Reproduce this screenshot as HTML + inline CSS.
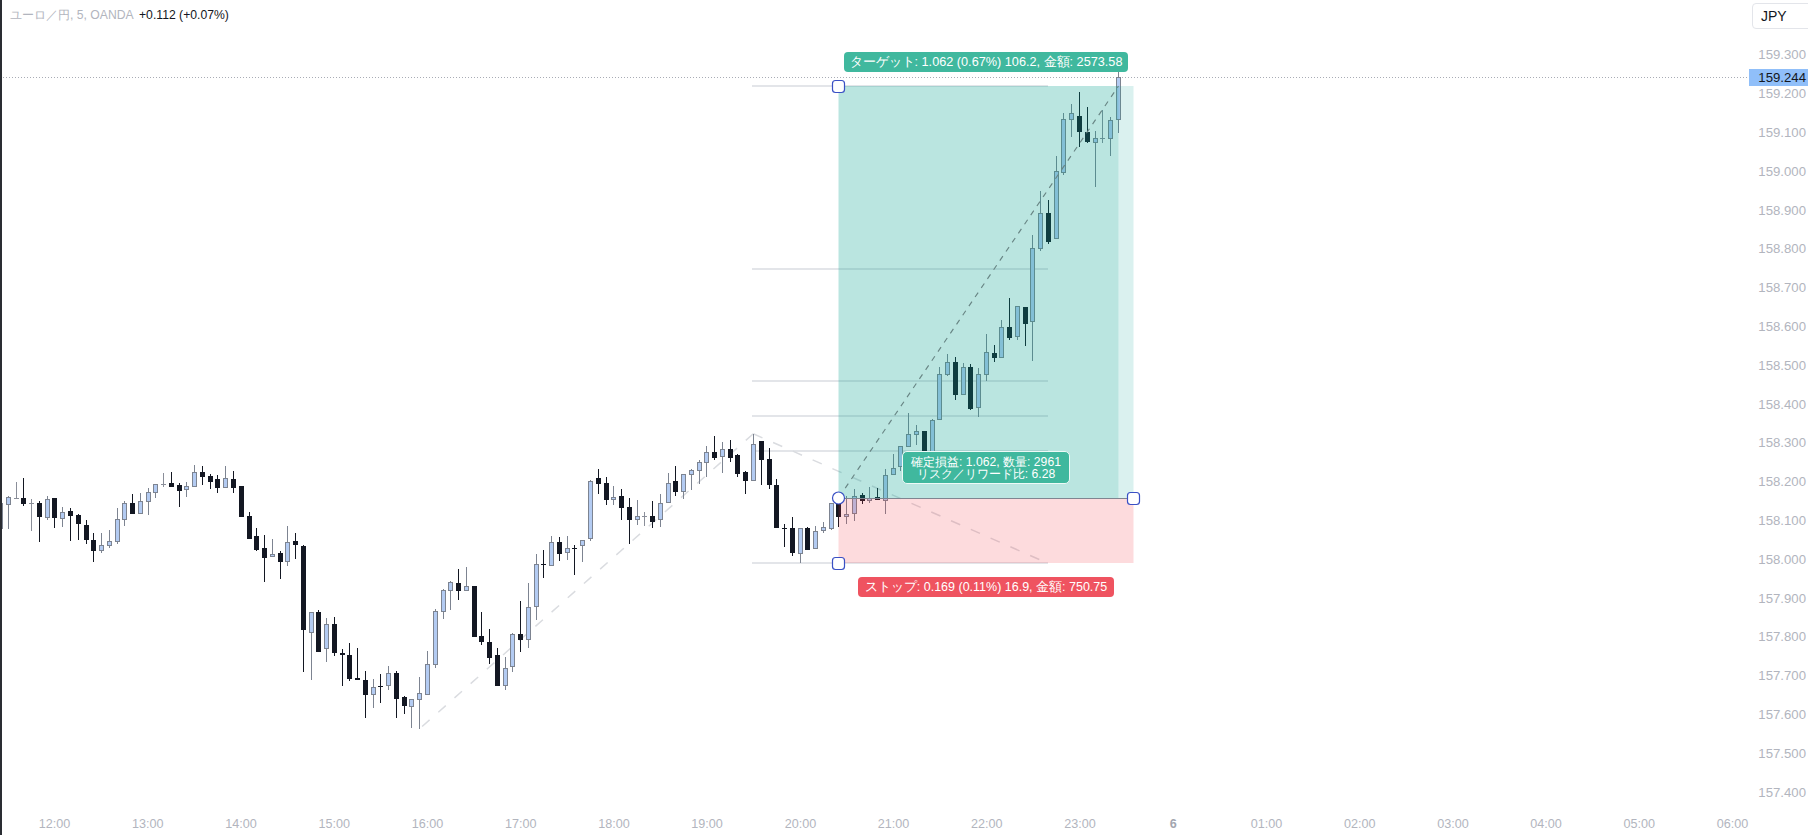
<!DOCTYPE html>
<html><head><meta charset="utf-8">
<style>
html,body{margin:0;padding:0;background:#fff;}
body{width:1808px;height:835px;position:relative;overflow:hidden;font-family:"Liberation Sans",sans-serif;}
.abs{position:absolute;white-space:nowrap;}
.pl{position:absolute;right:2px;font-size:13.2px;color:#b2b5be;line-height:14px;text-align:right;}
.tl{position:absolute;top:817px;font-size:12.6px;color:#b2b5be;line-height:14px;width:60px;text-align:center;}
svg{position:absolute;left:0;top:0;}
</style></head><body>
<svg width="1808" height="835" viewBox="0 0 1808 835">
<!-- current price dotted line -->
<line x1="0" y1="77.5" x2="1749" y2="77.5" stroke="#a9acb5" stroke-width="1" stroke-dasharray="1 2"/>
<!-- gray drawing lines -->
<g stroke="#e3e5e9" stroke-width="2">
<line x1="752" y1="86" x2="1048" y2="86"/>
<line x1="752" y1="269" x2="1048" y2="269"/>
<line x1="752" y1="381" x2="1048" y2="381"/>
<line x1="752" y1="416" x2="1048" y2="416"/>
<line x1="752" y1="451" x2="1048" y2="451"/>
<line x1="752" y1="563" x2="1048" y2="563"/>
</g>
<g stroke="#dadce0" stroke-width="1.5" stroke-dasharray="10 11.6">
<line x1="753.3" y1="433.8" x2="419.4" y2="728.9"/>
<line x1="753.3" y1="433.8" x2="1047.7" y2="563.2"/>
</g>
<rect x="0" y="500" width="1" height="31" fill="#7d8491"/>
<rect x="-2" y="503" width="5" height="26" fill="#7d8491"/>
<rect x="-1" y="504" width="3" height="24" fill="#b3cbf2"/>
<rect x="8" y="496" width="1" height="33" fill="#7d8491"/>
<rect x="6" y="497" width="5" height="8" fill="#7d8491"/>
<rect x="7" y="498" width="3" height="6" fill="#b3cbf2"/>
<rect x="16" y="482" width="1" height="17" fill="#8a8e99"/>
<rect x="14" y="498" width="5" height="1" fill="#8a8e99"/>
<rect x="23" y="478" width="1" height="28" fill="#131722"/>
<rect x="21" y="498" width="5" height="6" fill="#131722"/>
<rect x="31" y="499" width="1" height="32" fill="#8a8e99"/>
<rect x="29" y="503" width="5" height="1" fill="#8a8e99"/>
<rect x="39" y="501" width="1" height="41" fill="#131722"/>
<rect x="37" y="503" width="5" height="14" fill="#131722"/>
<rect x="47" y="496" width="1" height="24" fill="#7d8491"/>
<rect x="45" y="499" width="5" height="19" fill="#7d8491"/>
<rect x="46" y="500" width="3" height="17" fill="#b3cbf2"/>
<rect x="54" y="498" width="1" height="30" fill="#131722"/>
<rect x="52" y="498" width="5" height="20" fill="#131722"/>
<rect x="62" y="507" width="1" height="20" fill="#7d8491"/>
<rect x="60" y="512" width="5" height="7" fill="#7d8491"/>
<rect x="61" y="513" width="3" height="5" fill="#b3cbf2"/>
<rect x="70" y="508" width="1" height="33" fill="#131722"/>
<rect x="68" y="511" width="5" height="5" fill="#131722"/>
<rect x="78" y="514" width="1" height="26" fill="#131722"/>
<rect x="76" y="515" width="5" height="9" fill="#131722"/>
<rect x="86" y="520" width="1" height="24" fill="#131722"/>
<rect x="84" y="525" width="5" height="15" fill="#131722"/>
<rect x="93" y="533" width="1" height="29" fill="#131722"/>
<rect x="91" y="540" width="5" height="11" fill="#131722"/>
<rect x="101" y="533" width="1" height="20" fill="#7d8491"/>
<rect x="99" y="545" width="5" height="6" fill="#7d8491"/>
<rect x="100" y="546" width="3" height="4" fill="#b3cbf2"/>
<rect x="109" y="530" width="1" height="18" fill="#7d8491"/>
<rect x="107" y="541" width="5" height="5" fill="#7d8491"/>
<rect x="108" y="542" width="3" height="3" fill="#b3cbf2"/>
<rect x="117" y="508" width="1" height="36" fill="#7d8491"/>
<rect x="115" y="519" width="5" height="23" fill="#7d8491"/>
<rect x="116" y="520" width="3" height="21" fill="#b3cbf2"/>
<rect x="124" y="501" width="1" height="25" fill="#7d8491"/>
<rect x="122" y="503" width="5" height="17" fill="#7d8491"/>
<rect x="123" y="504" width="3" height="15" fill="#b3cbf2"/>
<rect x="132" y="494" width="1" height="20" fill="#131722"/>
<rect x="130" y="503" width="5" height="11" fill="#131722"/>
<rect x="140" y="493" width="1" height="21" fill="#7d8491"/>
<rect x="138" y="501" width="5" height="13" fill="#7d8491"/>
<rect x="139" y="502" width="3" height="11" fill="#b3cbf2"/>
<rect x="148" y="488" width="1" height="27" fill="#7d8491"/>
<rect x="146" y="492" width="5" height="10" fill="#7d8491"/>
<rect x="147" y="493" width="3" height="8" fill="#b3cbf2"/>
<rect x="155" y="484" width="1" height="14" fill="#7d8491"/>
<rect x="153" y="484" width="5" height="9" fill="#7d8491"/>
<rect x="154" y="485" width="3" height="7" fill="#b3cbf2"/>
<rect x="163" y="473" width="1" height="14" fill="#8a8e99"/>
<rect x="161" y="484" width="5" height="1" fill="#8a8e99"/>
<rect x="171" y="472" width="1" height="15" fill="#131722"/>
<rect x="169" y="483" width="5" height="4" fill="#131722"/>
<rect x="179" y="483" width="1" height="24" fill="#131722"/>
<rect x="177" y="485" width="5" height="6" fill="#131722"/>
<rect x="186" y="482" width="1" height="15" fill="#7d8491"/>
<rect x="184" y="486" width="5" height="4" fill="#7d8491"/>
<rect x="185" y="487" width="3" height="2" fill="#b3cbf2"/>
<rect x="194" y="465" width="1" height="22" fill="#7d8491"/>
<rect x="192" y="472" width="5" height="15" fill="#7d8491"/>
<rect x="193" y="473" width="3" height="13" fill="#b3cbf2"/>
<rect x="202" y="466" width="1" height="19" fill="#131722"/>
<rect x="200" y="472" width="5" height="5" fill="#131722"/>
<rect x="210" y="474" width="1" height="15" fill="#131722"/>
<rect x="208" y="476" width="5" height="6" fill="#131722"/>
<rect x="217" y="475" width="1" height="18" fill="#131722"/>
<rect x="215" y="479" width="5" height="9" fill="#131722"/>
<rect x="225" y="466" width="1" height="22" fill="#7d8491"/>
<rect x="223" y="478" width="5" height="10" fill="#7d8491"/>
<rect x="224" y="479" width="3" height="8" fill="#b3cbf2"/>
<rect x="233" y="471" width="1" height="22" fill="#131722"/>
<rect x="231" y="479" width="5" height="9" fill="#131722"/>
<rect x="241" y="486" width="1" height="31" fill="#131722"/>
<rect x="239" y="486" width="5" height="31" fill="#131722"/>
<rect x="249" y="512" width="1" height="27" fill="#131722"/>
<rect x="247" y="516" width="5" height="23" fill="#131722"/>
<rect x="256" y="528" width="1" height="23" fill="#131722"/>
<rect x="254" y="536" width="5" height="14" fill="#131722"/>
<rect x="264" y="535" width="1" height="47" fill="#131722"/>
<rect x="262" y="548" width="5" height="10" fill="#131722"/>
<rect x="272" y="539" width="1" height="18" fill="#7d8491"/>
<rect x="270" y="554" width="5" height="3" fill="#7d8491"/>
<rect x="271" y="555" width="3" height="1" fill="#b3cbf2"/>
<rect x="280" y="551" width="1" height="28" fill="#131722"/>
<rect x="278" y="553" width="5" height="9" fill="#131722"/>
<rect x="287" y="526" width="1" height="40" fill="#7d8491"/>
<rect x="285" y="542" width="5" height="20" fill="#7d8491"/>
<rect x="286" y="543" width="3" height="18" fill="#b3cbf2"/>
<rect x="295" y="533" width="1" height="26" fill="#131722"/>
<rect x="293" y="541" width="5" height="4" fill="#131722"/>
<rect x="303" y="545" width="1" height="127" fill="#131722"/>
<rect x="301" y="546" width="5" height="84" fill="#131722"/>
<rect x="311" y="612" width="1" height="68" fill="#7d8491"/>
<rect x="309" y="612" width="5" height="21" fill="#7d8491"/>
<rect x="310" y="613" width="3" height="19" fill="#b3cbf2"/>
<rect x="318" y="610" width="1" height="42" fill="#131722"/>
<rect x="316" y="612" width="5" height="40" fill="#131722"/>
<rect x="326" y="618" width="1" height="44" fill="#7d8491"/>
<rect x="324" y="624" width="5" height="25" fill="#7d8491"/>
<rect x="325" y="625" width="3" height="23" fill="#b3cbf2"/>
<rect x="334" y="617" width="1" height="39" fill="#131722"/>
<rect x="332" y="624" width="5" height="29" fill="#131722"/>
<rect x="342" y="649" width="1" height="37" fill="#131722"/>
<rect x="340" y="653" width="5" height="2" fill="#131722"/>
<rect x="349" y="643" width="1" height="38" fill="#131722"/>
<rect x="347" y="655" width="5" height="24" fill="#131722"/>
<rect x="357" y="648" width="1" height="32" fill="#131722"/>
<rect x="355" y="678" width="5" height="2" fill="#131722"/>
<rect x="365" y="671" width="1" height="47" fill="#131722"/>
<rect x="363" y="680" width="5" height="15" fill="#131722"/>
<rect x="373" y="679" width="1" height="29" fill="#7d8491"/>
<rect x="371" y="687" width="5" height="8" fill="#7d8491"/>
<rect x="372" y="688" width="3" height="6" fill="#b3cbf2"/>
<rect x="380" y="674" width="1" height="29" fill="#131722"/>
<rect x="378" y="686" width="5" height="1" fill="#131722"/>
<rect x="388" y="666" width="1" height="24" fill="#7d8491"/>
<rect x="386" y="673" width="5" height="13" fill="#7d8491"/>
<rect x="387" y="674" width="3" height="11" fill="#b3cbf2"/>
<rect x="396" y="671" width="1" height="47" fill="#131722"/>
<rect x="394" y="673" width="5" height="26" fill="#131722"/>
<rect x="404" y="696" width="1" height="18" fill="#131722"/>
<rect x="402" y="697" width="5" height="9" fill="#131722"/>
<rect x="411" y="699" width="1" height="29" fill="#7d8491"/>
<rect x="409" y="699" width="5" height="8" fill="#7d8491"/>
<rect x="410" y="700" width="3" height="6" fill="#b3cbf2"/>
<rect x="419" y="677" width="1" height="52" fill="#7d8491"/>
<rect x="417" y="693" width="5" height="7" fill="#7d8491"/>
<rect x="418" y="694" width="3" height="5" fill="#b3cbf2"/>
<rect x="427" y="651" width="1" height="44" fill="#7d8491"/>
<rect x="425" y="664" width="5" height="31" fill="#7d8491"/>
<rect x="426" y="665" width="3" height="29" fill="#b3cbf2"/>
<rect x="435" y="609" width="1" height="59" fill="#7d8491"/>
<rect x="433" y="611" width="5" height="54" fill="#7d8491"/>
<rect x="434" y="612" width="3" height="52" fill="#b3cbf2"/>
<rect x="443" y="589" width="1" height="30" fill="#7d8491"/>
<rect x="441" y="590" width="5" height="22" fill="#7d8491"/>
<rect x="442" y="591" width="3" height="20" fill="#b3cbf2"/>
<rect x="450" y="581" width="1" height="29" fill="#7d8491"/>
<rect x="448" y="582" width="5" height="9" fill="#7d8491"/>
<rect x="449" y="583" width="3" height="7" fill="#b3cbf2"/>
<rect x="458" y="569" width="1" height="31" fill="#131722"/>
<rect x="456" y="583" width="5" height="8" fill="#131722"/>
<rect x="466" y="567" width="1" height="24" fill="#7d8491"/>
<rect x="464" y="586" width="5" height="5" fill="#7d8491"/>
<rect x="465" y="587" width="3" height="3" fill="#b3cbf2"/>
<rect x="474" y="586" width="1" height="51" fill="#131722"/>
<rect x="472" y="586" width="5" height="51" fill="#131722"/>
<rect x="481" y="612" width="1" height="33" fill="#131722"/>
<rect x="479" y="636" width="5" height="6" fill="#131722"/>
<rect x="489" y="629" width="1" height="35" fill="#131722"/>
<rect x="487" y="642" width="5" height="16" fill="#131722"/>
<rect x="497" y="648" width="1" height="38" fill="#131722"/>
<rect x="495" y="655" width="5" height="31" fill="#131722"/>
<rect x="505" y="657" width="1" height="33" fill="#7d8491"/>
<rect x="503" y="668" width="5" height="18" fill="#7d8491"/>
<rect x="504" y="669" width="3" height="16" fill="#b3cbf2"/>
<rect x="512" y="633" width="1" height="39" fill="#7d8491"/>
<rect x="510" y="634" width="5" height="33" fill="#7d8491"/>
<rect x="511" y="635" width="3" height="31" fill="#b3cbf2"/>
<rect x="520" y="601" width="1" height="51" fill="#131722"/>
<rect x="518" y="634" width="5" height="6" fill="#131722"/>
<rect x="528" y="583" width="1" height="65" fill="#7d8491"/>
<rect x="526" y="607" width="5" height="33" fill="#7d8491"/>
<rect x="527" y="608" width="3" height="31" fill="#b3cbf2"/>
<rect x="536" y="554" width="1" height="66" fill="#7d8491"/>
<rect x="534" y="564" width="5" height="43" fill="#7d8491"/>
<rect x="535" y="565" width="3" height="41" fill="#b3cbf2"/>
<rect x="543" y="550" width="1" height="28" fill="#131722"/>
<rect x="541" y="564" width="5" height="1" fill="#131722"/>
<rect x="551" y="536" width="1" height="30" fill="#7d8491"/>
<rect x="549" y="542" width="5" height="24" fill="#7d8491"/>
<rect x="550" y="543" width="3" height="22" fill="#b3cbf2"/>
<rect x="559" y="537" width="1" height="24" fill="#131722"/>
<rect x="557" y="542" width="5" height="12" fill="#131722"/>
<rect x="567" y="536" width="1" height="24" fill="#7d8491"/>
<rect x="565" y="548" width="5" height="5" fill="#7d8491"/>
<rect x="566" y="549" width="3" height="3" fill="#b3cbf2"/>
<rect x="574" y="545" width="1" height="30" fill="#131722"/>
<rect x="572" y="548" width="5" height="1" fill="#131722"/>
<rect x="582" y="540" width="1" height="22" fill="#7d8491"/>
<rect x="580" y="540" width="5" height="6" fill="#7d8491"/>
<rect x="581" y="541" width="3" height="4" fill="#b3cbf2"/>
<rect x="590" y="480" width="1" height="61" fill="#7d8491"/>
<rect x="588" y="481" width="5" height="58" fill="#7d8491"/>
<rect x="589" y="482" width="3" height="56" fill="#b3cbf2"/>
<rect x="598" y="469" width="1" height="25" fill="#131722"/>
<rect x="596" y="478" width="5" height="6" fill="#131722"/>
<rect x="606" y="477" width="1" height="28" fill="#131722"/>
<rect x="604" y="483" width="5" height="17" fill="#131722"/>
<rect x="613" y="486" width="1" height="19" fill="#7d8491"/>
<rect x="611" y="497" width="5" height="3" fill="#7d8491"/>
<rect x="612" y="498" width="3" height="1" fill="#b3cbf2"/>
<rect x="621" y="489" width="1" height="31" fill="#131722"/>
<rect x="619" y="496" width="5" height="12" fill="#131722"/>
<rect x="629" y="498" width="1" height="46" fill="#131722"/>
<rect x="627" y="507" width="5" height="13" fill="#131722"/>
<rect x="637" y="500" width="1" height="25" fill="#7d8491"/>
<rect x="635" y="516" width="5" height="4" fill="#7d8491"/>
<rect x="636" y="517" width="3" height="2" fill="#b3cbf2"/>
<rect x="644" y="512" width="1" height="14" fill="#8a8e99"/>
<rect x="642" y="516" width="5" height="1" fill="#8a8e99"/>
<rect x="652" y="501" width="1" height="27" fill="#131722"/>
<rect x="650" y="516" width="5" height="6" fill="#131722"/>
<rect x="660" y="494" width="1" height="33" fill="#7d8491"/>
<rect x="658" y="503" width="5" height="17" fill="#7d8491"/>
<rect x="659" y="504" width="3" height="15" fill="#b3cbf2"/>
<rect x="668" y="473" width="1" height="30" fill="#7d8491"/>
<rect x="666" y="483" width="5" height="20" fill="#7d8491"/>
<rect x="667" y="484" width="3" height="18" fill="#b3cbf2"/>
<rect x="675" y="466" width="1" height="30" fill="#131722"/>
<rect x="673" y="481" width="5" height="11" fill="#131722"/>
<rect x="683" y="474" width="1" height="25" fill="#7d8491"/>
<rect x="681" y="474" width="5" height="18" fill="#7d8491"/>
<rect x="682" y="475" width="3" height="16" fill="#b3cbf2"/>
<rect x="691" y="469" width="1" height="21" fill="#7d8491"/>
<rect x="689" y="470" width="5" height="5" fill="#7d8491"/>
<rect x="690" y="471" width="3" height="3" fill="#b3cbf2"/>
<rect x="699" y="460" width="1" height="24" fill="#7d8491"/>
<rect x="697" y="462" width="5" height="9" fill="#7d8491"/>
<rect x="698" y="463" width="3" height="7" fill="#b3cbf2"/>
<rect x="706" y="446" width="1" height="31" fill="#7d8491"/>
<rect x="704" y="452" width="5" height="11" fill="#7d8491"/>
<rect x="705" y="453" width="3" height="9" fill="#b3cbf2"/>
<rect x="714" y="436" width="1" height="24" fill="#131722"/>
<rect x="712" y="452" width="5" height="6" fill="#131722"/>
<rect x="722" y="442" width="1" height="31" fill="#7d8491"/>
<rect x="720" y="449" width="5" height="8" fill="#7d8491"/>
<rect x="721" y="450" width="3" height="6" fill="#b3cbf2"/>
<rect x="730" y="440" width="1" height="22" fill="#131722"/>
<rect x="728" y="449" width="5" height="9" fill="#131722"/>
<rect x="737" y="454" width="1" height="23" fill="#131722"/>
<rect x="735" y="455" width="5" height="19" fill="#131722"/>
<rect x="745" y="471" width="1" height="23" fill="#131722"/>
<rect x="743" y="472" width="5" height="9" fill="#131722"/>
<rect x="753" y="434" width="1" height="47" fill="#7d8491"/>
<rect x="751" y="444" width="5" height="37" fill="#7d8491"/>
<rect x="752" y="445" width="3" height="35" fill="#b3cbf2"/>
<rect x="761" y="441" width="1" height="44" fill="#131722"/>
<rect x="759" y="441" width="5" height="19" fill="#131722"/>
<rect x="769" y="448" width="1" height="41" fill="#131722"/>
<rect x="767" y="459" width="5" height="26" fill="#131722"/>
<rect x="776" y="479" width="1" height="49" fill="#131722"/>
<rect x="774" y="485" width="5" height="43" fill="#131722"/>
<rect x="784" y="524" width="1" height="23" fill="#131722"/>
<rect x="782" y="528" width="5" height="1" fill="#131722"/>
<rect x="792" y="517" width="1" height="39" fill="#131722"/>
<rect x="790" y="528" width="5" height="25" fill="#131722"/>
<rect x="800" y="528" width="1" height="35" fill="#7d8491"/>
<rect x="798" y="528" width="5" height="26" fill="#7d8491"/>
<rect x="799" y="529" width="3" height="24" fill="#b3cbf2"/>
<rect x="807" y="527" width="1" height="23" fill="#131722"/>
<rect x="805" y="528" width="5" height="22" fill="#131722"/>
<rect x="815" y="526" width="1" height="23" fill="#7d8491"/>
<rect x="813" y="531" width="5" height="18" fill="#7d8491"/>
<rect x="814" y="532" width="3" height="16" fill="#b3cbf2"/>
<rect x="823" y="522" width="1" height="11" fill="#7d8491"/>
<rect x="821" y="527" width="5" height="4" fill="#7d8491"/>
<rect x="822" y="528" width="3" height="2" fill="#b3cbf2"/>
<rect x="831" y="503" width="1" height="27" fill="#7d8491"/>
<rect x="829" y="503" width="5" height="26" fill="#7d8491"/>
<rect x="830" y="504" width="3" height="24" fill="#b3cbf2"/>
<rect x="838" y="496" width="1" height="31" fill="#131722"/>
<rect x="836" y="504" width="5" height="13" fill="#131722"/>
<rect x="846" y="496" width="1" height="28" fill="#7d8491"/>
<rect x="844" y="514" width="5" height="3" fill="#7d8491"/>
<rect x="845" y="515" width="3" height="1" fill="#b3cbf2"/>
<rect x="854" y="489" width="1" height="32" fill="#7d8491"/>
<rect x="852" y="496" width="5" height="18" fill="#7d8491"/>
<rect x="853" y="497" width="3" height="16" fill="#b3cbf2"/>
<rect x="862" y="493" width="1" height="11" fill="#131722"/>
<rect x="860" y="495" width="5" height="6" fill="#131722"/>
<rect x="869" y="487" width="1" height="16" fill="#7d8491"/>
<rect x="867" y="498" width="5" height="3" fill="#7d8491"/>
<rect x="868" y="499" width="3" height="1" fill="#b3cbf2"/>
<rect x="877" y="488" width="1" height="12" fill="#131722"/>
<rect x="875" y="497" width="5" height="3" fill="#131722"/>
<rect x="885" y="469" width="1" height="45" fill="#7d8491"/>
<rect x="883" y="475" width="5" height="26" fill="#7d8491"/>
<rect x="884" y="476" width="3" height="24" fill="#b3cbf2"/>
<rect x="893" y="454" width="1" height="21" fill="#7d8491"/>
<rect x="891" y="468" width="5" height="7" fill="#7d8491"/>
<rect x="892" y="469" width="3" height="5" fill="#b3cbf2"/>
<rect x="900" y="446" width="1" height="25" fill="#7d8491"/>
<rect x="898" y="446" width="5" height="21" fill="#7d8491"/>
<rect x="899" y="447" width="3" height="19" fill="#b3cbf2"/>
<rect x="908" y="413" width="1" height="34" fill="#7d8491"/>
<rect x="906" y="434" width="5" height="13" fill="#7d8491"/>
<rect x="907" y="435" width="3" height="11" fill="#b3cbf2"/>
<rect x="916" y="425" width="1" height="20" fill="#7d8491"/>
<rect x="914" y="431" width="5" height="4" fill="#7d8491"/>
<rect x="915" y="432" width="3" height="2" fill="#b3cbf2"/>
<rect x="924" y="431" width="1" height="24" fill="#131722"/>
<rect x="922" y="431" width="5" height="21" fill="#131722"/>
<rect x="932" y="419" width="1" height="36" fill="#7d8491"/>
<rect x="930" y="420" width="5" height="32" fill="#7d8491"/>
<rect x="931" y="421" width="3" height="30" fill="#b3cbf2"/>
<rect x="939" y="367" width="1" height="53" fill="#7d8491"/>
<rect x="937" y="374" width="5" height="46" fill="#7d8491"/>
<rect x="938" y="375" width="3" height="44" fill="#b3cbf2"/>
<rect x="947" y="354" width="1" height="22" fill="#7d8491"/>
<rect x="945" y="362" width="5" height="13" fill="#7d8491"/>
<rect x="946" y="363" width="3" height="11" fill="#b3cbf2"/>
<rect x="955" y="357" width="1" height="43" fill="#131722"/>
<rect x="953" y="362" width="5" height="33" fill="#131722"/>
<rect x="963" y="363" width="1" height="32" fill="#7d8491"/>
<rect x="961" y="367" width="5" height="28" fill="#7d8491"/>
<rect x="962" y="368" width="3" height="26" fill="#b3cbf2"/>
<rect x="970" y="364" width="1" height="46" fill="#131722"/>
<rect x="968" y="367" width="5" height="42" fill="#131722"/>
<rect x="978" y="368" width="1" height="49" fill="#7d8491"/>
<rect x="976" y="374" width="5" height="34" fill="#7d8491"/>
<rect x="977" y="375" width="3" height="32" fill="#b3cbf2"/>
<rect x="986" y="334" width="1" height="47" fill="#7d8491"/>
<rect x="984" y="352" width="5" height="23" fill="#7d8491"/>
<rect x="985" y="353" width="3" height="21" fill="#b3cbf2"/>
<rect x="994" y="345" width="1" height="17" fill="#131722"/>
<rect x="992" y="353" width="5" height="5" fill="#131722"/>
<rect x="1001" y="320" width="1" height="38" fill="#7d8491"/>
<rect x="999" y="327" width="5" height="31" fill="#7d8491"/>
<rect x="1000" y="328" width="3" height="29" fill="#b3cbf2"/>
<rect x="1009" y="298" width="1" height="42" fill="#131722"/>
<rect x="1007" y="327" width="5" height="11" fill="#131722"/>
<rect x="1017" y="306" width="1" height="34" fill="#7d8491"/>
<rect x="1015" y="306" width="5" height="31" fill="#7d8491"/>
<rect x="1016" y="307" width="3" height="29" fill="#b3cbf2"/>
<rect x="1025" y="307" width="1" height="39" fill="#131722"/>
<rect x="1023" y="307" width="5" height="17" fill="#131722"/>
<rect x="1032" y="235" width="1" height="126" fill="#7d8491"/>
<rect x="1030" y="248" width="5" height="74" fill="#7d8491"/>
<rect x="1031" y="249" width="3" height="72" fill="#b3cbf2"/>
<rect x="1040" y="191" width="1" height="60" fill="#7d8491"/>
<rect x="1038" y="213" width="5" height="36" fill="#7d8491"/>
<rect x="1039" y="214" width="3" height="34" fill="#b3cbf2"/>
<rect x="1048" y="200" width="1" height="44" fill="#131722"/>
<rect x="1046" y="213" width="5" height="29" fill="#131722"/>
<rect x="1056" y="156" width="1" height="83" fill="#7d8491"/>
<rect x="1054" y="171" width="5" height="68" fill="#7d8491"/>
<rect x="1055" y="172" width="3" height="66" fill="#b3cbf2"/>
<rect x="1063" y="113" width="1" height="62" fill="#7d8491"/>
<rect x="1061" y="119" width="5" height="54" fill="#7d8491"/>
<rect x="1062" y="120" width="3" height="52" fill="#b3cbf2"/>
<rect x="1071" y="104" width="1" height="33" fill="#7d8491"/>
<rect x="1069" y="113" width="5" height="7" fill="#7d8491"/>
<rect x="1070" y="114" width="3" height="5" fill="#b3cbf2"/>
<rect x="1079" y="92" width="1" height="55" fill="#131722"/>
<rect x="1077" y="116" width="5" height="16" fill="#131722"/>
<rect x="1087" y="107" width="1" height="36" fill="#131722"/>
<rect x="1085" y="132" width="5" height="10" fill="#131722"/>
<rect x="1095" y="131" width="1" height="56" fill="#7d8491"/>
<rect x="1093" y="138" width="5" height="5" fill="#7d8491"/>
<rect x="1094" y="139" width="3" height="3" fill="#b3cbf2"/>
<rect x="1102" y="110" width="1" height="33" fill="#8a8e99"/>
<rect x="1100" y="138" width="5" height="1" fill="#8a8e99"/>
<rect x="1110" y="117" width="1" height="39" fill="#7d8491"/>
<rect x="1108" y="120" width="5" height="19" fill="#7d8491"/>
<rect x="1109" y="121" width="3" height="17" fill="#b3cbf2"/>
<rect x="1118" y="72" width="1" height="61" fill="#7d8491"/>
<rect x="1116" y="77" width="5" height="43" fill="#7d8491"/>
<rect x="1117" y="78" width="3" height="41" fill="#b3cbf2"/>
<!-- position overlays -->
<rect x="838.5" y="86" width="280" height="412" fill="rgba(8,160,145,0.28)"/>
<rect x="1118.5" y="86" width="15" height="412" fill="rgba(8,160,145,0.15)"/>
<rect x="838.5" y="498" width="295" height="65" fill="rgba(242,54,69,0.18)"/>
<line x1="838.5" y1="498.5" x2="1133.5" y2="498.5" stroke="#7f8590" stroke-width="1"/>
<line x1="838.5" y1="498" x2="1118.5" y2="86" stroke="#688584" stroke-width="1.15" stroke-dasharray="5.4 5.6" stroke-dashoffset="-1"/>
<!-- handles -->
<g fill="#fff" stroke="#3a50c4" stroke-width="1.2">
<rect x="832.5" y="80.5" width="12" height="12" rx="3"/>
<rect x="832.5" y="557.5" width="12" height="12" rx="3"/>
<rect x="1127.5" y="492.5" width="12" height="12" rx="3"/>
<circle cx="838.5" cy="498" r="6"/>
</g>
<!-- left border -->
<rect x="0" y="0" width="2" height="835" fill="#2a2d33"/>
</svg>

<!-- legend -->
<div class="abs" style="left:10px;top:8px;font-size:12.2px;line-height:15px;color:#b2b5be;">ユーロ／円, 5, OANDA</div>
<div class="abs" style="left:139px;top:8px;font-size:12.2px;line-height:15px;color:#131722;">+0.112 (+0.07%)</div>

<!-- JPY button -->
<div class="abs" style="left:1752px;top:3px;width:70px;height:26px;border:1.3px solid #e3e5ea;border-radius:4px;box-sizing:border-box;"></div>
<div class="abs" style="left:1761px;top:8px;font-size:14px;line-height:16px;color:#131722;">JPY</div>

<!-- price labels -->
<div class="pl" style="top:48.3px">159.300</div>
<div class="pl" style="top:87.1px">159.200</div>
<div class="pl" style="top:125.9px">159.100</div>
<div class="pl" style="top:164.7px">159.000</div>
<div class="pl" style="top:203.5px">158.900</div>
<div class="pl" style="top:242.3px">158.800</div>
<div class="pl" style="top:281.1px">158.700</div>
<div class="pl" style="top:319.9px">158.600</div>
<div class="pl" style="top:358.7px">158.500</div>
<div class="pl" style="top:397.5px">158.400</div>
<div class="pl" style="top:436.3px">158.300</div>
<div class="pl" style="top:475.1px">158.200</div>
<div class="pl" style="top:513.9px">158.100</div>
<div class="pl" style="top:552.7px">158.000</div>
<div class="pl" style="top:591.5px">157.900</div>
<div class="pl" style="top:630.3px">157.800</div>
<div class="pl" style="top:669.1px">157.700</div>
<div class="pl" style="top:707.9px">157.600</div>
<div class="pl" style="top:746.7px">157.500</div>
<div class="pl" style="top:785.5px">157.400</div>
<div class="abs" style="left:1749px;top:69px;width:59px;height:17px;background:#90bff9;"></div>
<div class="abs" style="right:2px;top:70px;font-size:13.2px;line-height:15px;color:#131722;">159.244</div>

<!-- time labels -->
<div class="tl" style="left:24.6px">12:00</div>
<div class="tl" style="left:117.8px">13:00</div>
<div class="tl" style="left:211.0px">14:00</div>
<div class="tl" style="left:304.3px">15:00</div>
<div class="tl" style="left:397.5px">16:00</div>
<div class="tl" style="left:490.7px">17:00</div>
<div class="tl" style="left:583.9px">18:00</div>
<div class="tl" style="left:677.1px">19:00</div>
<div class="tl" style="left:770.4px">20:00</div>
<div class="tl" style="left:863.6px">21:00</div>
<div class="tl" style="left:956.8px">22:00</div>
<div class="tl" style="left:1050.0px">23:00</div>
<div class="tl" style="left:1143.2px;font-weight:bold;color:#a3a6af">6</div>
<div class="tl" style="left:1236.5px">01:00</div>
<div class="tl" style="left:1329.7px">02:00</div>
<div class="tl" style="left:1422.9px">03:00</div>
<div class="tl" style="left:1516.1px">04:00</div>
<div class="tl" style="left:1609.3px">05:00</div>
<div class="tl" style="left:1702.6px">06:00</div>

<!-- position labels -->
<div class="abs" style="left:844px;top:52px;width:284px;height:20px;background:#40b89e;border-radius:4px;color:#fff;font-size:12.7px;line-height:20px;text-align:center;">ターゲット: 1.062 (0.67%) 106.2, 金額: 2573.58</div>
<div class="abs" style="left:902px;top:451px;width:168px;height:33px;background:#40b89e;border:1.5px solid #eefaf7;box-sizing:border-box;border-radius:5px;color:#fff;font-size:12.2px;line-height:12.5px;text-align:center;padding-top:3.5px;">確定損益: 1.062, 数量: 2961<br>リスク／リワード比: 6.28</div>
<div class="abs" style="left:858px;top:577px;width:256px;height:20px;background:#ef5360;border-radius:4px;color:#fff;font-size:12.5px;line-height:20px;text-align:center;">ストップ: 0.169 (0.11%) 16.9, 金額: 750.75</div>
</body></html>
